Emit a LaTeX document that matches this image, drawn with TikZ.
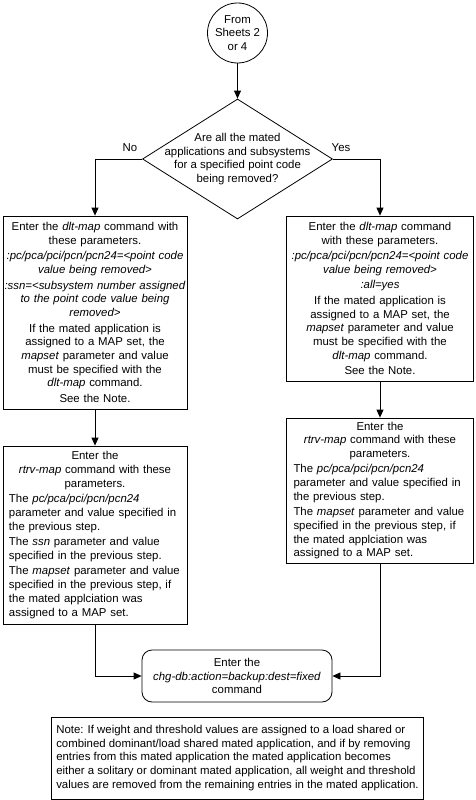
\documentclass[tikz,border=0pt]{standalone}
\usepackage{fontspec}
\setmainfont{Liberation Sans}
\usetikzlibrary{arrows.meta,shapes.geometric}
\newcommand{\pbr}{\par\vspace{1.8pt}}
\begin{document}
\begin{tikzpicture}[x=1pt,y=-1pt,
  every node/.style={font=\fontsize{11.4}{13.7}\selectfont},
  box/.style={draw, line width=0.8pt, inner sep=0pt},
  arr/.style={draw, line width=0.8pt, -{Triangle[length=8pt,width=7pt]}},
]
\useasboundingbox (0,0) rectangle (475,800);

\node[draw, circle, line width=0.8pt, minimum size=60pt, inner sep=0pt, align=center] (start) at (237.5,33) {From\\Sheets 2\\or 4};

\node[draw, diamond, line width=0.8pt, aspect=1.58, minimum width=190pt, minimum height=120pt, inner sep=0pt] (dia) at (237.5,159) {};
\node[align=center] (q) at (dia.center) {Are all the mated\\applications and subsystems\\for a specified point code\\being removed?};

\node (no) at (130,148) {No};
\node (yes) at (341,148) {Yes};

\node[box, align=center, minimum width=184pt, minimum height=193pt, text width=183pt] (lb1) at (95,312.5) {%
Enter the \textit{dlt-map} command with\\these parameters.\pbr
\textit{:pc/pca/pci/pcn/pcn24=<point code}\\\textit{value being removed>}\pbr
\textit{:ssn=<subsystem number assigned}\\\textit{to the point code value being}\\\textit{removed>}\pbr
If the mated application is\\assigned to a MAP set, the\\\textit{mapset} parameter and value\\must be specified with the\\\textit{dlt-map} command.\pbr
See the Note.};

\node[box, align=center, minimum width=187pt, minimum height=165pt, text width=186pt] (rb1) at (380,298.5) {%
Enter the \textit{dlt-map} command\\with these parameters.\pbr
\textit{:pc/pca/pci/pcn/pcn24=<point code}\\\textit{value being removed>}\pbr
\textit{:all=yes}\pbr
If the mated application is\\assigned to a MAP set, the\\\textit{mapset} parameter and value\\must be specified with the\\\textit{dlt-map} command.\pbr
See the Note.};

\node[box, align=left, minimum width=184pt, minimum height=178pt, text width=172pt, inner xsep=6pt] (lb2) at (95,535) {%
{\centering Enter the\\\textit{rtrv-map} command with these\\parameters.\par}\vspace{1.8pt}
\raggedright The \textit{pc/pca/pci/pcn/pcn24}\\parameter and value specified in\\the previous step.\pbr
The \textit{ssn} parameter and value\\specified in the previous step.\pbr
The \textit{mapset} parameter and value\\specified in the previous step, if\\the mated applciation was\\assigned to a MAP set.};

\node[box, align=left, minimum width=187pt, minimum height=145pt, text width=173pt, inner xsep=7pt] (rb2) at (380,490.5) {%
{\centering Enter the\\\textit{rtrv-map} command with these\\parameters.\par}\vspace{1.8pt}
\raggedright The \textit{pc/pca/pci/pcn/pcn24}\\parameter and value specified in\\the previous step.\pbr
The \textit{mapset} parameter and value\\specified in the previous step, if\\the mated applciation was\\assigned to a MAP set.};

\node[box, align=center, rounded corners=10pt, minimum width=190pt, minimum height=52pt] (term) at (237,676) {Enter the\\\textit{chg-db:action=backup:dest=fixed}\\command};

\node[box, align=left, minimum width=371pt, minimum height=82pt, inner xsep=5pt] (note) at (237.5,758) {%
Note: If weight and threshold values are assigned to a load shared or\\
combined dominant/load shared mated application, and if by removing\\
entries from this mated application the mated application becomes\\
either a solitary or dominant mated application, all weight and threshold\\
values are removed from the remaining entries in the mated application.};

\draw[arr] (start.south) -- (dia.north);
\draw[arr] (dia.west) -| (lb1.north);
\draw[arr] (dia.east) -| (rb1.north);
\draw[arr] (lb1.south) -- (lb2.north);
\draw[arr] (rb1.south) -- (rb2.north);
\draw[arr] (lb2.south) |- (term.west);
\draw[arr] (rb2.south) |- (term.east);
\end{tikzpicture}
\end{document}
